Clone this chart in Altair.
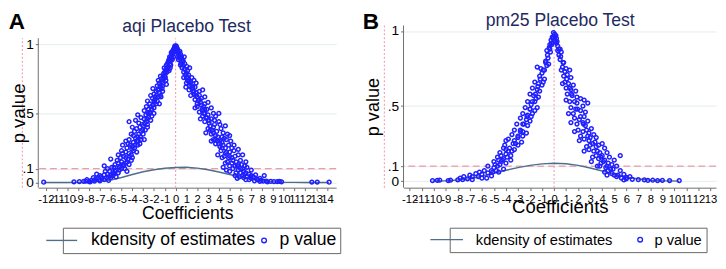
import altair as alt
import pandas as pd

FONT = "Liberation Sans, Arial, Helvetica, sans-serif"
SERIES = ["kdensity of estimates", "p value"]
LINE_COLOR = "#4e6e8c"
POINT_COLOR = "#1f1fff"
PINK_DASH = "#ee8090"
PINK_DOT = "#f4a3b6"
AXIS_COLOR = "#6e6e6e"
TITLE_COLOR = "#1e2a5e"

# ---------------- Panel A (aqi) ----------------
A_LEFT = [
    (-0.05, .99), (-0.1, .98), (-0.2, .96), (-0.3, .95), (-0.15, .97),
    (-0.35, .92), (-0.5, .9), (-0.6, .89), (-0.45, .88), (-0.7, .87), (-0.25, .93),
    (-0.66, .84), (-0.9, .82), (-1.0, .8), (-0.8, .8), (-0.5, .83), (-1.1, .79), (-0.75, .86),
    (-1.1, .75), (-1.3, .73), (-1.5, .72), (-0.9, .74), (-1.2, .7), (-1.6, .74), (-1.0, .77),
    (-1.2, .66), (-1.5, .65), (-1.8, .66), (-2.0, .64), (-1.6, .62), (-2.1, .68), (-1.4, .69),
    (-1.8, .57), (-2.1, .56), (-2.4, .57), (-2.7, .55), (-2.2, .53), (-2.6, .59), (-1.9, .6),
    (-2.2, .48), (-2.5, .47), (-2.9, .46), (-3.2, .47), (-3.5, .49), (-2.7, .44), (-3.4, .43), (-2.4, .51),
    (-2.8, .38), (-3.2, .37), (-3.6, .39), (-4.0, .4), (-3.4, .35), (-3.9, .34), (-4.3, .44), (-3.0, .41),
    (-3.2, .31), (-3.6, .3), (-3.9, .29), (-4.3, .31), (-4.6, .3), (-4.0, .26), (-4.5, .25), (-3.5, .27),
    (-3.9, .23), (-4.3, .21), (-4.6, .22), (-5.0, .23), (-4.8, .19), (-5.3, .2), (-4.4, .17),
    (-4.1, .16), (-4.6, .14), (-5.0, .15), (-5.4, .16), (-5.1, .12), (-5.6, .13), (-6.0, .17),
    (-5.0, .1), (-5.5, .09), (-5.9, .11), (-6.3, .1), (-5.8, .07), (-6.3, .06), (-6.6, .12),
    (-5.8, .05), (-6.2, .04), (-6.6, .055), (-7.0, .05), (-7.3, .06), (-6.8, .03), (-6.0, .035),
    (-7.1, .02), (-7.4, .025), (-7.8, .015), (-7.5, .01), (-8.3, .01), (-8.5, .008),
    (-8.9, .006), (-9.4, .004), (-12.2, .002),
    (-0.12, .95), (-0.4, .94), (-0.55, .91), (-0.3, .89), (-0.85, .85), (-0.6, .81), (-1.05, .83),
    (-0.95, .76), (-1.4, .77), (-1.25, .68), (-1.7, .7), (-1.4, .63), (-1.9, .62), (-2.3, .63),
    (-1.7, .59), (-2.0, .54), (-2.5, .53), (-2.9, .52), (-2.3, .45), (-2.75, .49), (-3.1, .42),
    (-3.7, .45), (-2.6, .4), (-3.0, .35), (-3.5, .33), (-3.8, .37), (-4.1, .35), (-3.3, .28),
    (-3.8, .25), (-4.2, .27), (-4.9, .27), (-4.1, .2), (-4.6, .18), (-5.1, .18), (-4.3, .13),
    (-4.8, .12), (-5.3, .14), (-5.7, .11), (-5.3, .07), (-6.1, .08), (-5.5, .04), (-6.4, .035),
    (-6.9, .04), (-7.6, .035), (-6.6, .02), (-7.0, .012), (-8.0, .006), (-8.2, .02),
    (-0.2, .91), (-0.45, .85), (-0.7, .82), (-1.15, .72), (-0.85, .71), (-1.35, .62), (-1.65, .67),
    (-2.0, .59), (-1.5, .57), (-2.35, .5), (-2.0, .5), (-2.6, .42), (-3.3, .4), (-2.9, .31),
    (-3.7, .32), (-4.4, .28), (-3.6, .22), (-4.0, .18), (-4.9, .21), (-4.7, .1), (-5.2, .09),
    (-4.5, .08), (-5.7, .06), (-6.5, .08), (-7.2, .03), (-6.2, .015), (-7.9, .005),
    (-0.08, .97), (-0.22, .94), (-0.38, .9), (-0.52, .86), (-0.65, .88), (-0.78, .83), (-0.95, .79),
    (-1.15, .77), (-1.3, .75), (-1.45, .7), (-1.55, .67), (-1.75, .63), (-1.95, .58), (-2.15, .61),
    (-2.25, .55), (-2.55, .5), (-2.65, .46), (-2.85, .43), (-3.05, .38), (-3.25, .33), (-3.45, .3),
    (-3.75, .27), (-4.05, .24), (-4.25, .19), (-4.5, .15), (-4.9, .13), (-5.2, .11), (-5.6, .08),
    (-6.0, .05),
]
A_RIGHT = [
    (0.1, .98), (0.2, .96), (0.3, .94), (0.05, .99), (0.4, .95), (0.15, .97),
    (0.4, .9), (0.6, .89), (0.7, .88), (0.5, .87), (0.8, .91), (0.3, .92),
    (0.6, .83), (0.9, .82), (1.1, .81), (1.3, .83), (0.9, .78), (1.2, .78), (0.7, .85),
    (1.1, .74), (1.4, .73), (1.7, .74), (1.3, .7), (1.6, .69), (1.9, .72), (1.0, .76),
    (1.6, .66), (1.9, .65), (2.2, .66), (2.5, .67), (2.0, .62), (2.4, .61), (1.5, .68),
    (2.0, .57), (2.4, .56), (2.7, .57), (3.0, .58), (2.5, .52), (2.9, .53), (2.2, .6),
    (2.5, .48), (2.9, .47), (3.3, .46), (3.7, .48), (4.0, .5), (3.1, .43), (3.6, .42), (2.7, .5),
    (3.0, .39), (3.4, .38), (3.8, .37), (4.2, .39), (4.6, .41), (3.7, .34), (4.3, .33), (3.2, .41),
    (3.5, .31), (3.9, .3), (4.3, .29), (4.7, .31), (5.1, .3), (4.1, .26), (4.6, .25), (5.4, .27),
    (4.2, .23), (4.6, .21), (5.0, .22), (5.4, .23), (5.8, .24), (4.9, .18), (5.5, .19), (6.2, .2),
    (4.8, .15), (5.2, .14), (5.6, .15), (6.0, .16), (5.5, .12), (6.1, .13), (6.5, .15),
    (5.3, .1), (5.8, .09), (6.2, .1), (6.6, .11), (6.0, .07), (6.5, .07), (7.0, .09),
    (6.2, .05), (6.6, .045), (7.0, .05), (7.4, .055), (7.0, .03), (7.5, .025), (8.2, .05),
    (7.6, .02), (7.9, .015), (8.1, .01), (8.4, .01), (8.8, .008), (9.1, .006),
    (9.4, .006), (9.8, .005), (12.6, .003), (13.1, .003), (14.2, .002),
    (0.12, .95), (0.45, .93), (0.55, .91), (0.25, .89), (0.85, .86), (0.75, .8), (1.05, .84),
    (1.0, .72), (1.5, .76), (1.25, .67), (1.8, .69), (1.8, .6), (2.2, .63), (2.7, .62),
    (1.8, .54), (2.2, .51), (2.7, .53), (3.3, .54), (2.7, .44), (3.5, .5), (3.3, .35),
    (3.6, .45), (4.0, .44), (4.4, .36), (3.9, .33), (4.5, .32), (5.0, .34), (3.7, .28),
    (4.4, .27), (4.9, .27), (4.5, .19), (5.2, .18), (5.8, .2), (4.6, .14), (5.0, .12),
    (5.8, .13), (6.4, .12), (5.6, .07), (6.3, .08), (5.9, .04), (6.8, .06), (7.2, .04),
    (6.8, .02), (7.3, .012), (7.8, .03), (8.5, .005), (9.6, .008),
    (0.2, .91), (0.45, .85), (0.75, .76), (1.2, .73), (0.95, .69), (1.4, .63), (1.7, .64),
    (2.0, .55), (2.6, .55), (2.3, .46), (3.0, .49), (2.8, .36), (3.5, .4), (4.1, .42),
    (3.3, .3), (4.1, .3), (4.8, .35), (3.9, .2), (4.3, .18), (5.2, .25), (4.4, .11),
    (5.0, .08), (4.7, .09), (5.5, .05), (6.3, .035), (7.8, .008), (6.5, .02), (5.7, .03),
    (0.08, .97), (0.22, .94), (0.38, .9), (0.52, .86), (0.65, .88), (0.8, .82), (1.0, .79),
    (1.15, .76), (1.35, .72), (1.5, .7), (1.7, .66), (1.85, .63), (2.1, .59), (2.3, .58),
    (2.45, .53), (2.6, .5), (2.8, .47), (3.1, .45), (3.2, .38), (3.5, .36), (3.7, .31),
    (4.0, .28), (4.3, .25), (4.7, .22), (5.0, .19), (5.3, .16), (5.7, .12), (6.0, .1),
    (6.4, .06), (6.9, .04),
]
A_KD_X = [-12.2, -10, -9, -8, -7, -6, -5, -4, -3, -2, -1, 0, 1, 2, 3, 4, 5, 6, 7, 8, 9, 10, 11, 12, 14.2]
A_KD_Y = [0.0, 0.0005, 0.001, 0.003, 0.008, 0.018, 0.036, 0.058, 0.078, 0.093, 0.103, 0.108, 0.11,
          0.104, 0.092, 0.076, 0.058, 0.04, 0.024, 0.013, 0.006, 0.002, 0.001, 0.0005, 0.0]

# ---------------- Panel B (pm25) ----------------
B_POINTS = [
    (-0.05, .99), (0.05, .98), (-0.15, .96), (0.15, .97), (0.2, .95), (-0.25, .94), (0.1, .93),
    (-0.4, .89), (-0.6, .87), (0.3, .9), (0.5, .88), (0.6, .86), (-0.3, .86), (-0.5, .82), (0.5, .81),
    (-1.4, .76), (-1.1, .75), (-0.8, .74), (0.7, .76), (1.0, .75), (1.3, .74), (-1.0, .72), (1.1, .71),
    (-1.6, .66), (-1.3, .65), (-1.0, .64), (0.9, .66), (1.2, .65), (1.6, .64), (-1.4, .61), (1.4, .61),
    (-2.0, .58), (-1.7, .57), (-1.3, .56), (1.1, .58), (1.5, .57), (1.9, .56), (2.5, .54), (2.8, .52), (-1.6, .53),
    (-2.4, .49), (-2.0, .48), (-1.6, .47), (1.4, .49), (1.8, .48), (2.2, .47), (2.6, .46), (-2.2, .44),
    (-2.8, .42), (-2.3, .41), (-1.9, .43), (1.7, .42), (2.1, .41), (2.5, .43), (2.8, .4), (-2.6, .38),
    (-3.3, .34), (-2.8, .33), (-2.3, .32), (2.0, .34), (2.4, .33), (2.9, .32), (3.3, .31), (-3.0, .29),
    (-3.8, .28), (-3.3, .27), (-2.7, .26), (2.5, .28), (2.9, .27), (3.4, .26), (3.7, .24), (-4.0, .27),
    (-4.2, .22), (-3.8, .2), (-3.3, .21), (-4.5, .19), (2.9, .21), (3.3, .2), (3.8, .19), (4.2, .22), (-3.6, .17),
    (-4.7, .16), (-4.2, .15), (-3.6, .14), (3.2, .16), (3.7, .15), (4.2, .14), (4.6, .16), (5.5, .17), (-4.0, .12),
    (-5.5, .1), (-5.0, .09), (-4.5, .11), (-4.2, .08), (3.8, .1), (4.3, .09), (4.8, .11), (5.2, .1), (4.5, .07),
    (-7.0, .04), (-6.5, .05), (-6.0, .045), (-5.5, .055), (-5.2, .035), (-6.3, .03), (4.8, .05), (5.3, .04),
    (5.8, .045), (5.2, .03), (6.0, .025),
    (-9.7, .005), (-9.5, .006), (-8.8, .004), (-8.6, .006), (-8.0, .008), (-7.6, .01), (-7.2, .015),
    (-7.8, .02), (6.0, .015), (6.5, .012), (7.0, .01), (7.5, .008), (7.8, .005), (8.2, .006),
    (8.6, .004), (9.0, .005), (9.6, .004), (10.4, .003), (-10.1, .003),
    (-0.1, .95), (0.25, .93), (-0.35, .91), (0.4, .84), (-0.7, .8), (-0.45, .78), (0.8, .79),
    (-1.2, .7), (-0.8, .68), (0.8, .7), (1.4, .69), (-1.8, .62), (-1.2, .6), (1.0, .62), (1.8, .6),
    (-2.2, .53), (-1.9, .51), (1.3, .53), (1.9, .52), (2.2, .55), (-2.6, .45), (-1.8, .45), (1.6, .45),
    (2.4, .5), (-3.1, .38), (-2.2, .37), (1.9, .38), (2.6, .37), (3.1, .35), (-3.5, .31), (-2.6, .3),
    (2.2, .3), (2.8, .3), (3.5, .29), (-4.1, .24), (-3.0, .24), (2.7, .23), (3.5, .23), (4.0, .25),
    (-4.4, .17), (-3.9, .16), (3.5, .17), (4.0, .17), (4.4, .19), (-5.0, .13), (-4.4, .13), (3.9, .12),
    (4.5, .12), (5.0, .14), (-5.8, .07), (-4.8, .07), (-5.1, .06), (4.2, .06), (4.9, .08), (5.5, .07),
    (-6.8, .03), (-7.5, .03), (-6.0, .02), (5.6, .02), (6.3, .03), (5.0, .04),
    (-0.2, .91), (0.3, .87), (-0.6, .77), (0.6, .74), (-0.9, .66), (0.7, .65), (-1.5, .55),
    (1.0, .54), (-1.4, .49), (1.2, .45), (-2.0, .4), (1.4, .39), (2.4, .39), (-2.6, .33),
    (1.7, .33), (-3.2, .25), (2.1, .27), (3.0, .24), (-3.5, .2), (-4.0, .21), (2.5, .2),
    (-4.6, .14), (3.1, .13), (3.6, .1), (-4.9, .11), (-6.2, .06), (4.4, .04), (-4.6, .06),
    (5.8, .008), (-6.8, .01), (-5.6, .02),
    (-0.08, .96), (0.08, .96), (-0.2, .92), (0.2, .92), (-0.35, .88), (0.38, .88), (-0.55, .84),
    (0.55, .83), (-0.7, .79), (0.75, .79), (-0.9, .74), (0.9, .73), (-1.15, .68), (1.05, .68),
    (-1.35, .63), (1.3, .62), (-1.55, .58), (1.45, .58), (-1.8, .53), (1.7, .53), (-2.0, .48),
    (1.95, .48), (-2.25, .43), (2.2, .43), (-2.5, .38), (2.45, .38), (-2.8, .34), (2.7, .34),
    (-3.0, .3), (3.0, .29), (-3.4, .25), (3.2, .25), (-3.7, .22), (3.6, .2), (-4.0, .18),
    (3.9, .16), (-4.3, .14), (4.1, .13), (-4.7, .1), (4.4, .1), (-5.2, .07), (4.7, .08),
]
B_KD_X = [-10.1, -9, -8, -7, -6, -5, -4, -3, -2, -1, 0, 1, 2, 3, 4, 5, 6, 7, 8, 9, 10.4]
B_KD_Y = [0.0, 0.002, 0.007, 0.016, 0.033, 0.052, 0.072, 0.09, 0.105, 0.115, 0.119, 0.116, 0.105,
          0.088, 0.068, 0.046, 0.027, 0.014, 0.006, 0.002, 0.0]

A_TICKS = list(range(-12, 15))
B_TICKS = list(range(-12, 14))
Y_TICKS = [0, 0.1, 0.5, 1]
Y_LABEL_EXPR = ("datum.value == 1 ? '1' : datum.value == 0.5 ? '.5' : "
                "datum.value == 0.1 ? '.1' : '0'")
CIRCLE_PATH = "M 2.4 0 A 2.4 2.4 0 1 1 -2.4 0 A 2.4 2.4 0 1 1 2.4 0 Z"


def panel(points, kd_x, kd_y, xdom, ydom, width, height, ticks, vline_top,
          left_dot_x, letter, letter_xy, title, title_xy, title_baseline,
          ytitle_xy, ytitle_size, xtitle_size, xtitle_y,
          leg_x, leg_y, leg_font, leg_offset, leg_colpad, line_len, leg_pad):
    xs = alt.Scale(domain=xdom, nice=False, zero=False)
    ys = alt.Scale(domain=ydom, nice=False, zero=False)
    cs = alt.Scale(domain=SERIES, range=[LINE_COLOR, POINT_COLOR])
    x_axis = alt.Axis(
        title="Coefficients", values=ticks, labelExpr="'' + datum.value", grid=False,
        domainColor=AXIS_COLOR, tickColor=AXIS_COLOR, tickSize=3, labelFontSize=11.5,
        labelFont=FONT, labelColor="black", labelPadding=3, labelOverlap=False,
        labelFlush=False, titleFontSize=xtitle_size, titleFont=FONT,
        titleFontWeight="normal", titleColor="black", titleY=xtitle_y,
        titleBaseline="alphabetic")
    y_axis = alt.Axis(
        title="", values=Y_TICKS, labelExpr=Y_LABEL_EXPR, grid=True,
        gridColor="#e3ecee", domain=False, tickColor=AXIS_COLOR, tickSize=3,
        labelFontSize=14, labelFont=FONT, labelColor="black", labelPadding=2)
    line_path = f"M {-line_len + 1.6} 0 L 1.6 0"
    legend = alt.Legend(
        orient="none", legendX=leg_x, legendY=leg_y, direction="horizontal",
        strokeColor="#666666", fillColor="white", padding=leg_pad,
        labelFont=FONT, labelFontSize=leg_font, labelColor="black", labelLimit=400,
        labelOffset=leg_offset, columnPadding=leg_colpad, symbolSize=4,
        symbolStrokeWidth=1.4, symbolFillColor="transparent",
        symbolType=alt.ExprRef(
            expr=f"datum.value === 'p value' ? '{CIRCLE_PATH}' : '{line_path}'"))

    ybot, ytop = ydom[0], vline_top
    pts = pd.DataFrame({"x": [p[0] for p in points], "p": [p[1] for p in points],
                        "series": "p value"})
    kd = pd.DataFrame({"x": kd_x, "p": kd_y, "series": "kdensity of estimates"})
    hl = pd.DataFrame({"p": [0.1]})
    vl = pd.DataFrame({"x": [0, left_dot_x], "p": [ybot, ybot], "p2": [ytop, ytop]})
    ax = pd.DataFrame({"x": [xdom[0]], "p": [ybot], "p2": [ytop]})
    let = pd.DataFrame({"x": [letter_xy[0]], "p": [letter_xy[1]], "t": [letter]})
    tit = pd.DataFrame({"x": [title_xy[0]], "p": [title_xy[1]], "t": [title]})
    ytit = pd.DataFrame({"x": [ytitle_xy[0]], "p": [ytitle_xy[1]], "t": ["p value"]})

    X = lambda: alt.X("x:Q", scale=xs, axis=x_axis)
    Y = lambda: alt.Y("p:Q", scale=ys, axis=y_axis)

    hline = alt.Chart(hl).mark_rule(color=PINK_DASH, strokeDash=[7, 4], strokeWidth=1).encode(y=Y())
    vlines = alt.Chart(vl).mark_rule(color=PINK_DOT, strokeDash=[2, 2], strokeWidth=1.2).encode(
        x=X(), y=Y(), y2="p2:Q")
    axline = alt.Chart(ax).mark_rule(color=AXIS_COLOR, strokeWidth=1).encode(x=X(), y=Y(), y2="p2:Q")
    kline = alt.Chart(kd).mark_line(strokeWidth=1.5).encode(
        x=X(), y=Y(), color=alt.Color("series:N", scale=cs, legend=legend, title=None))
    dots = alt.Chart(pts).mark_point(filled=False, shape="circle", size=15, strokeWidth=1.5,
                                     opacity=1).encode(
        x=X(), y=Y(), color=alt.Color("series:N", scale=cs, legend=legend, title=None))
    ltext = alt.Chart(let).mark_text(align="left", baseline="top", fontSize=23,
                                     fontWeight="bold", font=FONT, color="black").encode(
        x=X(), y=Y(), text="t:N")
    ttext = alt.Chart(tit).mark_text(align="center", baseline=title_baseline, fontSize=18,
                                     font=FONT, color=TITLE_COLOR).encode(
        x=X(), y=Y(), text="t:N")
    ytext = alt.Chart(ytit).mark_text(align="center", baseline="middle", angle=270,
                                      fontSize=ytitle_size, font=FONT, color="black").encode(
        x=X(), y=Y(), text="t:N")
    return alt.layer(hline, vlines, axline, kline, dots, ltext, ttext, ytext).properties(
        width=width, height=height)


chart_a = panel(A_LEFT + A_RIGHT, A_KD_X, A_KD_Y, [-12.7, 14.85], [-0.0375, 1.2355],
                305, 180, A_TICKS, 1.045, -14.17, "A", (-15.44, 1.2355),
                "aqi Placebo Test", (1.01, 1.087), "alphabetic",
                (-14.45, 0.5), 19, 18, 32, 25.2, 221, 18, 6.85, 0, 31.6, 4)
chart_b = panel(B_POINTS, B_KD_X, B_KD_Y, [-12.51, 13.46], [-0.0436, 1.128],
                320, 180, B_TICKS, 1.037, -14.1, "B", (-15.9, 1.128),
                "pm25 Placebo Test", (0.51, 1.128), "top",
                (-15.0, 0.4935), 18.5, 19, 25, 47.3, 221, 15, 7.25, 20, 33.4, 4.5)

chart = alt.hconcat(chart_a, chart_b, spacing=20).resolve_scale(
    x="independent", y="independent", color="independent").resolve_legend(
    color="independent").properties(
    padding={"left": 0, "top": 0, "right": 0, "bottom": 0}).configure_view(
    stroke="transparent")

chart.save("out.html", embed_options={"renderer": "svg", "actions": False})
